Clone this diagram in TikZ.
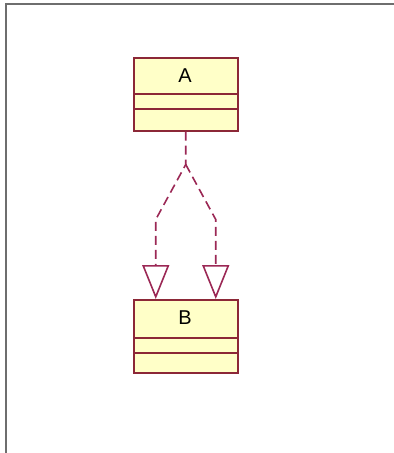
\documentclass[tikz,border=0pt]{standalone}
\usepackage{fontspec}
\setmainfont{Liberation Sans}
\usetikzlibrary{arrows.meta,calc}
\definecolor{boxline}{RGB}{140,40,55}
\definecolor{boxfill}{RGB}{255,255,200}
\definecolor{relline}{RGB}{155,40,85}
\definecolor{frame}{RGB}{110,110,110}
\tikzset{
  classbox/.style={draw=boxline, fill=boxfill, line width=1.5pt, minimum width=104pt, minimum height=73pt, inner sep=0pt, anchor=north west},
  divider/.style={draw=boxline, line width=1.5pt},
  classname/.style={font=\fontsize{20}{20}\selectfont},
  realize/.style={draw=relline, line width=1.6pt, dash pattern=on 9pt off 5pt,
    -{Triangle[open, length=34pt, width=27pt, line width=1.6pt]}}
}
\begin{document}
\begin{tikzpicture}[x=1pt,y=-1pt]
\useasboundingbox (0,0) rectangle (394,453);
\draw[frame, line width=2pt] (5.5,453) -- (5.5,3.5) -- (394,3.5);
% class A
\node[classbox] (A) at (133,57) {};
\draw[divider] (133,94) -- (237,94) (133,109) -- (237,109);
\node[classname] (At) at (185,76) {A};
% class B
\node[classbox] (B) at (133,299) {};
\draw[divider] (133,338) -- (237,338) (133,353) -- (237,353);
\node[classname] (Bt) at (185,318) {B};
% connectors
\coordinate (split) at ($(A.south)+(0,33)$);
\coordinate (bl) at ($(B.north)+(-30,0)$);
\coordinate (br) at ($(B.north)+(30,0)$);
\draw[realize] (A.south) -- (split) -- ($(split)+(-30,55)$) -- (bl);
\draw[realize] (split) -- ($(split)+(30,55)$) -- (br);
\end{tikzpicture}
\end{document}
